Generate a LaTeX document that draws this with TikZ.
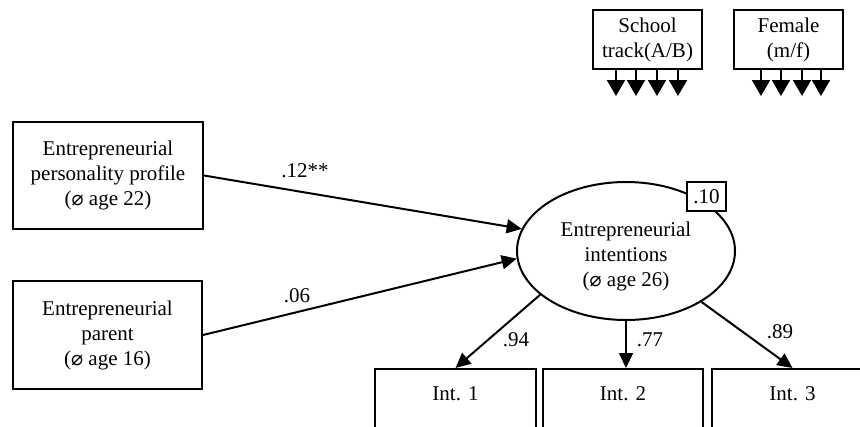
\documentclass[tikz,border=0pt]{standalone}
\usepackage{fontspec}
\setmainfont{Liberation Serif}
\newfontfamily\dejavu{DejaVu Sans}
\usetikzlibrary{arrows.meta,shapes.geometric}
% average sign, set slightly smaller than the surrounding text
\newcommand{\diam}{{\dejavu\fontsize{20}{20}\selectfont ⌀}}

\begin{document}
\begin{tikzpicture}[x=1pt,y=-1pt,
  txt/.style={font=\fontsize{21}{25}\selectfont},
  box/.style={txt, draw, line width=2pt, fill=white, align=center, inner sep=0pt},
  lbl/.style={txt, inner sep=0pt},
  path/.style={line width=2pt, -{Triangle[length=15pt,width=14pt]}},
  tick/.style={line width=2pt, -{Triangle[length=16pt,width=18pt]}}]
\useasboundingbox (0,0) rectangle (860,426);
\clip (0,0) rectangle (860,426);

% predictors
\node[box, minimum width=190pt, minimum height=107pt] (ppp) at (108,175.5)
  {Entrepreneurial\\personality profile\\(\diam\ age 22)};
\node[box, minimum width=189pt, minimum height=108pt] (par) at (107.5,335)
  {Entrepreneurial\\parent\\(\diam\ age 16)};

% latent outcome with its R-squared
\node[draw, ellipse, line width=2pt, minimum width=218pt, minimum height=138pt, inner sep=0pt] (ei) at (626,251) {};
\node[lbl, align=center] (eitext) at (626,256) {Entrepreneurial\\intentions\\(\diam\ age 26)};
\node[box, minimum width=39pt, minimum height=29pt] (rsq) at (706.5,196.5) {.10};

% control variables
\node[box, minimum width=109pt, minimum height=59pt] (school) at (647.5,39.5) {School\\track(A/B)};
\node[box, minimum width=109pt, minimum height=59pt] (female) at (788.5,39.5) {Female\\(m/f)};

% indicators
\node[box, minimum width=161pt, minimum height=62pt, text height=7pt, text depth=7pt] (int1) at (455.5,400) {Int. 1};
\node[box, minimum width=160pt, minimum height=62pt, text height=7pt, text depth=7pt] (int2) at (623,400) {Int. 2};
\node[box, minimum width=161pt, minimum height=62pt, text height=7pt, text depth=7pt] (int3) at (792.5,400) {Int. 3};

% structural paths
\draw[path] (ppp.east) -- (ei.168);
\draw[path] (par.east) -- (ei.184);
\node[lbl] (l12) at (305,171) {.12**};
\node[lbl] (l06) at (297,296) {.06};

% loadings
\draw[path] (ei.207) -- (int1.north);
\draw[path] (ei.south) -- (ei.south |- int2.north);
\draw[path] (ei.326) -- (int3.north);
\node[lbl] (l94) at (516,340) {.94};
\node[lbl] (l77) at (650,340) {.77};
\node[lbl] (l89) at (780,332) {.89};

% controls act on every path
\foreach \x [count=\i] in {616,636,657,678} {
  \coordinate (st\i) at (\x,96);
  \draw[tick] (school.south -| st\i) -- (st\i);
}
\foreach \x [count=\i] in {761,781,802,821} {
  \coordinate (ft\i) at (\x,96);
  \draw[tick] (female.south -| ft\i) -- (ft\i);
}
\end{tikzpicture}
\end{document}
